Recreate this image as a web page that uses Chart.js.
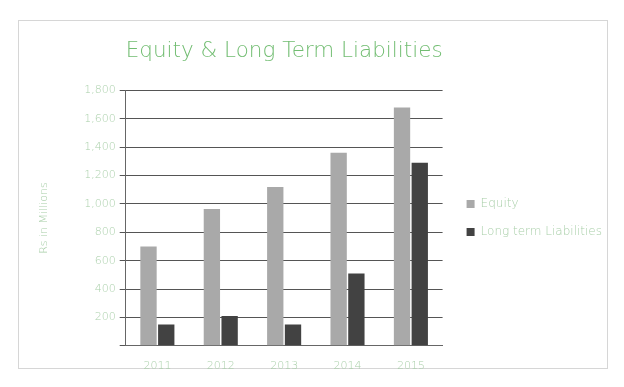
<!DOCTYPE html>
<html>
<head>
<meta charset="utf-8">
<script src="https://cdn.jsdelivr.net/npm/chart.js@4.4.1/dist/chart.umd.min.js"></script>
<style>
  html, body { margin: 0; padding: 0; background: #ffffff; }
  #wrap { position: relative; width: 624px; height: 387px; }
  #frame { position: absolute; left: 18px; top: 20px; width: 588px; height: 347px; border: 1px solid #d6d6d6; }
  canvas { position: absolute; left: 0; top: 0; }
</style>
</head>
<body>
<div id="wrap">
  <div id="frame"></div>
  <canvas id="myChart" width="624" height="387"></canvas>
</div>
<script>
const years = ["2011", "2012", "2013", "2014", "2015"];
const equity = [700, 965, 1120, 1360, 1680];
const longTermLiabilities = [150, 210, 150, 510, 1290];
const yTicks = [0, 200, 400, 600, 800, 1000, 1200, 1400, 1600, 1800];

const green = "#72bd72";
const lightGreen = "#a9cfa9";
const fontFamily = "'DejaVu Sans', sans-serif";

// the layout caps a side legend at a quarter of the width; let it be as wide as its text
const wideLegend = {
  id: "wideLegend",
  beforeLayout(chart) {
    const legend = chart.legend;
    if (!legend || legend._wide) return;
    const fit = legend.fit;
    legend.fit = function () {
      this.maxWidth = 260;
      fit.call(this);
    };
    legend._wide = true;
  },
};

const ctx = document.getElementById("myChart").getContext("2d");

const chart = new Chart(ctx, {
  type: "bar",
  data: {
    labels: years,
    datasets: [
      {
        label: "Equity",
        data: equity,
        backgroundColor: "#a9a9a9",
        categoryPercentage: 0.56,
        barPercentage: 0.92,
      },
      {
        label: "Long term Liabilities",
        data: longTermLiabilities,
        backgroundColor: "#424242",
        categoryPercentage: 0.56,
        barPercentage: 0.92,
      },
    ],
  },
  options: {
    responsive: false,
    animation: false,
    layout: {
      padding: { left: 38, right: 12, top: 30, bottom: 8 },
    },
    plugins: {
      title: {
        display: true,
        fullSize: false,
        text: "Equity & Long Term Liabilities",
        color: green,
        font: { family: fontFamily, size: 22, weight: 200 },
        padding: { top: 8, bottom: 26 },
      },
      legend: {
        position: "right",
        fullSize: false,
        labels: {
          color: lightGreen,
          font: { family: fontFamily, size: 12, weight: 200 },
          boxWidth: 8,
          boxHeight: 8,
          padding: 16,
        },
      },
      tooltip: { enabled: false },
    },
    scales: {
      x: {
        grid: { display: false },
        border: { display: true, color: "#666" },
        ticks: {
          color: lightGreen,
          font: { family: fontFamily, size: 11, weight: 200 },
          padding: 6,
        },
      },
      y: {
        min: 0,
        max: 1800,
        afterBuildTicks: (axis) => {
          axis.ticks = yTicks.map((v) => ({ value: v }));
        },
        grid: {
          color: "#555",
          lineWidth: 1,
          tickLength: 6,
        },
        border: { display: true, color: "#666" },
        ticks: {
          color: lightGreen,
          font: { family: fontFamily, size: 11, weight: 200 },
          padding: 4,
          callback: (v) => (v === 0 ? "" : v.toLocaleString("en-US")),
        },
        title: {
          display: true,
          text: "Rs in Millions",
          color: lightGreen,
          font: { family: fontFamily, size: 11, weight: 200 },
          padding: { top: 0, bottom: 29 },
        },
      },
      // hidden spacer on the right so the legend sits away from the plot
      gap: {
        type: "linear",
        position: "right",
        display: false,
        afterFit: (scale) => {
          scale.width = 8;
        },
      },
    },
  },
  plugins: [wideLegend],
});
</script>
</body>
</html>
